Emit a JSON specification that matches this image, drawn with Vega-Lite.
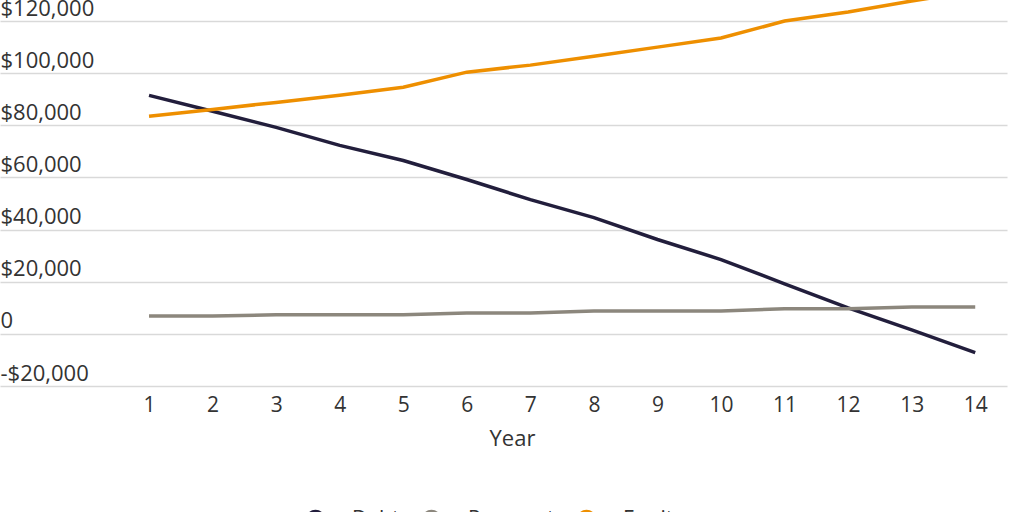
{
  "$schema": "https://vega.github.io/schema/vega-lite/v6.json",
  "width": 1007,
  "height": 386,
  "padding": {"left": 0, "top": 0, "right": 17, "bottom": 126},
  "autosize": {"type": "none"},
  "background": "white",
  "config": {
    "view": {"stroke": null},
    "font": "Open Sans",
    "axis": {"labelFont": "Open Sans", "titleFont": "Open Sans"},
    "legend": {"labelFont": "Open Sans"}
  },
  "data": {
    "values": [
      {"year": 1, "series": "Debt", "value": 91500},
      {"year": 2, "series": "Debt", "value": 85400},
      {"year": 3, "series": "Debt", "value": 79200},
      {"year": 4, "series": "Debt", "value": 72300},
      {"year": 5, "series": "Debt", "value": 66500},
      {"year": 6, "series": "Debt", "value": 59200},
      {"year": 7, "series": "Debt", "value": 51500},
      {"year": 8, "series": "Debt", "value": 44600},
      {"year": 9, "series": "Debt", "value": 36200},
      {"year": 10, "series": "Debt", "value": 28500},
      {"year": 11, "series": "Debt", "value": 19200},
      {"year": 12, "series": "Debt", "value": 10000},
      {"year": 13, "series": "Debt", "value": 1500},
      {"year": 14, "series": "Debt", "value": -7200},
      {"year": 1, "series": "Payment", "value": 6900},
      {"year": 2, "series": "Payment", "value": 6900},
      {"year": 3, "series": "Payment", "value": 7300},
      {"year": 4, "series": "Payment", "value": 7300},
      {"year": 5, "series": "Payment", "value": 7300},
      {"year": 6, "series": "Payment", "value": 8000},
      {"year": 7, "series": "Payment", "value": 8000},
      {"year": 8, "series": "Payment", "value": 8800},
      {"year": 9, "series": "Payment", "value": 8800},
      {"year": 10, "series": "Payment", "value": 8800},
      {"year": 11, "series": "Payment", "value": 9600},
      {"year": 12, "series": "Payment", "value": 9600},
      {"year": 13, "series": "Payment", "value": 10300},
      {"year": 14, "series": "Payment", "value": 10300},
      {"year": 1, "series": "Equity", "value": 83500},
      {"year": 2, "series": "Equity", "value": 86100},
      {"year": 3, "series": "Equity", "value": 88800},
      {"year": 4, "series": "Equity", "value": 91500},
      {"year": 5, "series": "Equity", "value": 94600},
      {"year": 6, "series": "Equity", "value": 100400},
      {"year": 7, "series": "Equity", "value": 103100},
      {"year": 8, "series": "Equity", "value": 106500},
      {"year": 9, "series": "Equity", "value": 110000},
      {"year": 10, "series": "Equity", "value": 113500},
      {"year": 11, "series": "Equity", "value": 120000},
      {"year": 12, "series": "Equity", "value": 123500},
      {"year": 13, "series": "Equity", "value": 127700},
      {"year": 14, "series": "Equity", "value": 131500}
    ]
  },
  "mark": {"type": "line", "strokeWidth": 3.5, "clip": true},
  "encoding": {
    "x": {
      "field": "year",
      "type": "quantitative",
      "scale": {"domain": [-1.345, 14.5], "nice": false, "zero": false},
      "axis": {
        "values": [1,2,3,4,5,6,7,8,9,10,11,12,13,14],
        "grid": false,
        "domain": false,
        "ticks": false,
        "labelPadding": 8,
        "labelFontSize": 21,
        "labelColor": "#333333",
        "labelFlush": false,
        "title": "Year",
        "titleFontSize": 22,
        "titleFontWeight": "normal",
        "titleColor": "#333333",
        "titlePadding": 13,
        "titleX": 512
      }
    },
    "y": {
      "field": "value",
      "type": "quantitative",
      "scale": {"domain": [-20000, 128080], "nice": false, "zero": false},
      "axis": {
        "values": [-20000, 0, 20000, 40000, 60000, 80000, 100000, 120000],
        "labelExpr": "datum.value == 0 ? '0' : (datum.value < 0 ? '-$' + format(-datum.value, ',') : '$' + format(datum.value, ','))",
        "grid": true,
        "gridColor": "#d9d9d9",
        "gridWidth": 1.5,
        "domain": false,
        "ticks": false,
        "tickSize": 0,
        "labelAlign": "left",
        "labelBaseline": "bottom",
        "labelPadding": 0,
        "labelOffset": -1,
        "labelFontSize": 22,
        "labelColor": "#333333",
        "labelFlush": false,
        "title": null
      }
    },
    "color": {
      "field": "series",
      "type": "nominal",
      "scale": {"domain": ["Debt", "Payment", "Equity"], "range": ["#221e3c", "#8c877d", "#ee8f00"]},
      "legend": {
        "orient": "none",
        "legendX": 305,
        "legendY": 509,
        "padding": 0,
        "direction": "horizontal",
        "title": null,
        "symbolType": "circle",
        "symbolSize": 100,
        "symbolStrokeWidth": 10,
        "labelOffset": 26,
        "labelFontSize": 21,
        "labelColor": "#333333",
        "columnPadding": 6
      }
    }
  }
}
